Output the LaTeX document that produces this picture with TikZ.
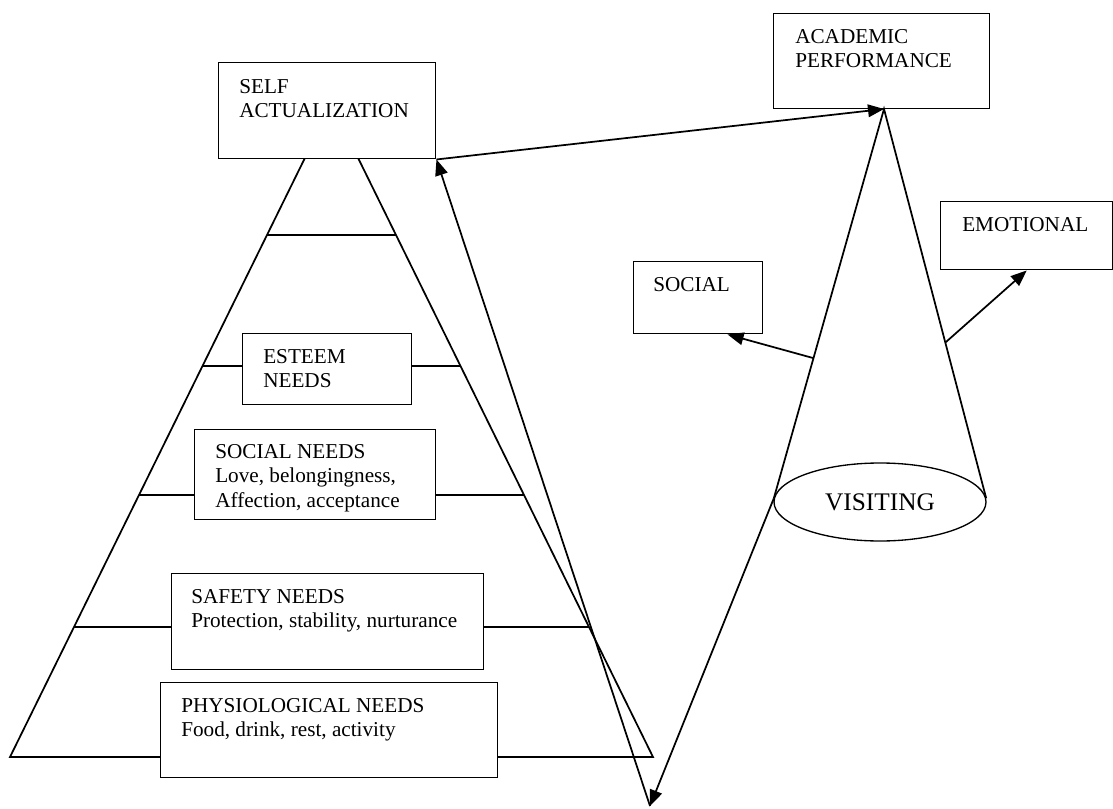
\documentclass[tikz,border=0pt]{standalone}
\usepackage{fontspec}
\setmainfont{Liberation Serif}
\usetikzlibrary{arrows.meta,shapes.geometric,calc}
\tikzset{
  box/.style={draw, fill=white, line width=1.1pt, inner sep=0pt, anchor=north west},
  txt/.style={anchor=north west, inner sep=0pt, align=left, font=\fontsize{15.9}{18.3}\selectfont},
  side/.style={line width=1.3pt},
  lvl/.style={line width=1.7pt},
  arr/.style={line width=1.3pt, -{Triangle[length=12pt,width=9.5pt]}}
}
\begin{document}
\begin{tikzpicture}[x=0.75pt,y=-0.75pt]
\useasboundingbox (0,0) rectangle (1113,809);
% pyramid
\draw[side] (10,757) -- (331.5,104) -- (653,757) -- cycle;
\foreach \y in {235,366,495,627} {\draw[lvl] ({305-0.4925*(\y-158)},\y) -- ({358+0.4925*(\y-158)},\y);}
% levels
\node[box, minimum width=162.75pt, minimum height=72pt] (self) at (218,62) {};
\node[txt] (selftxt) at ([shift={(21,17)}]self.north west) {SELF\\ACTUALIZATION};
\node[box, minimum width=126.75pt, minimum height=53.25pt] (esteem) at (242,333) {};
\node[txt] (esteemtxt) at ([shift={(21,16)}]esteem.north west) {ESTEEM\\NEEDS};
\node[box, minimum width=180.75pt, minimum height=67.5pt] (socneeds) at (194,429) {};
\node[txt] (socneedstxt) at ([shift={(21,15)}]socneeds.north west) {SOCIAL NEEDS\\Love, belongingness,\\Affection, acceptance};
\node[box, minimum width=234pt, minimum height=72pt] (safety) at (171,573) {};
\node[txt] (safetytxt) at ([shift={(20,16)}]safety.north west) {SAFETY NEEDS\\Protection, stability, nurturance};
\node[box, minimum width=252.75pt, minimum height=71.25pt] (physio) at (160,682) {};
\node[txt] (physiotxt) at ([shift={(21,16)}]physio.north west) {PHYSIOLOGICAL NEEDS\\Food, drink, rest, activity};
% right side
\node[box, minimum width=162pt, minimum height=71.25pt] (acad) at (773,13) {};
\node[txt] (acadtxt) at ([shift={(22,16)}]acad.north west) {ACADEMIC\\PERFORMANCE};
\node[box, minimum width=96.75pt, minimum height=54pt] (social) at (633,261) {};
\node[txt] (socialtxt) at ([shift={(20,16)}]social.north west) {SOCIAL};
\node[box, minimum width=129pt, minimum height=51pt] (emo) at (940,201) {};
\node[txt] (emotxt) at ([shift={(22,16)}]emo.north west) {EMOTIONAL};
% cone
\coordinate (apex) at (884,109);
\coordinate (tip) at (650,806);
\node[draw, ellipse, line width=1pt, inner sep=0pt, minimum width=159pt, minimum height=58.5pt, font=\fontsize{19}{22}\selectfont] (visit) at (880,502) {\raisebox{-2pt}{VISITING}};
\draw[side] (visit.178) -- (apex) -- (visit.2);
% arrows
\draw[arr] (self.south east) -- (apex);
\draw[arr] (tip) -- (self.south east);
\draw[arr] (visit.178) -- (tip);
\draw[arr] ($(apex)!0.64!(visit.178)$) -- ([xshift=22pt]social.south);
\draw[arr] ($(apex)!0.6!(visit.2)$) -- (emo.south);
\end{tikzpicture}
\end{document}
